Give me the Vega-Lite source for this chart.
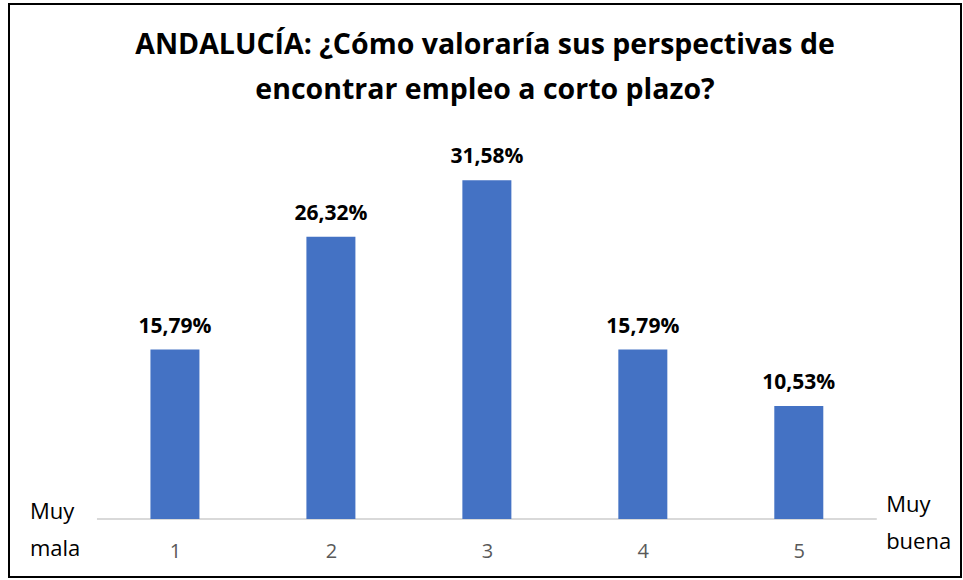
{
  "$schema": "https://vega.github.io/schema/vega-lite/v6.json",
  "autosize": "none",
  "width": 952,
  "height": 573,
  "padding": {"left": 9, "top": 4, "right": 2, "bottom": 3},
  "background": "white",
  "config": {
    "view": {"stroke": "black", "strokeWidth": 2},
    "font": "Open Sans"
  },
  "title": {
    "text": ["ANDALUCÍA: ¿Cómo valoraría sus perspectivas de", "encontrar empleo a corto plazo?"],
    "frame": "group",
    "anchor": "middle",
    "baseline": "bottom",
    "orient": "top",
    "offset": -129,
    "lineHeight": 45,
    "fontSize": 28.5,
    "fontWeight": "bold",
    "color": "black",
    "font": "Open Sans"
  },
  "datasets": {
    "bars": [
      {"cat": 1, "value": 15.79, "label": "15,79%"},
      {"cat": 2, "value": 26.32, "label": "26,32%"},
      {"cat": 3, "value": 31.58, "label": "31,58%"},
      {"cat": 4, "value": 15.79, "label": "15,79%"},
      {"cat": 5, "value": 10.53, "label": "10,53%"}
    ],
    "ends": [
      {"x": 0.07, "y": 0.65, "t": "Muy"},
      {"x": 0.07, "y": -2.8, "t": "mala"},
      {"x": 5.56, "y": 1.3, "t": "Muy"},
      {"x": 5.56, "y": -2.1, "t": "buena"}
    ],
    "base": [{"x": 0.5, "x2": 5.5, "y": 0}]
  },
  "layer": [
    {
      "data": {"name": "base"},
      "mark": {"type": "rule", "color": "#D9D9D9", "strokeWidth": 2},
      "encoding": {
        "x": {"field": "x", "type": "quantitative", "scale": {"domain": [-0.064, 6.04], "padding": 0, "nice": false, "zero": false}, "axis": {"values": [1, 2, 3, 4, 5], "domain": false, "ticks": false, "grid": false, "title": null, "labelFont": "Open Sans", "labelFontSize": 20, "labelColor": "#595959", "offset": -57, "labelPadding": 21, "format": "d"}},
        "x2": {"field": "x2"},
        "y": {"field": "y", "type": "quantitative", "scale": {"domain": [-5.4, 48.0], "padding": 0, "nice": false, "zero": false}, "axis": null}
      }
    },
    {
      "data": {"name": "bars"},
      "mark": {"type": "bar", "color": "#4472C4", "width": 49},
      "encoding": {
        "x": {"field": "cat", "type": "quantitative"},
        "y": {"field": "value", "type": "quantitative"},
        "y2": {"datum": 0}
      }
    },
    {
      "data": {"name": "bars"},
      "mark": {"type": "text", "fontWeight": "bold", "fontSize": 21, "color": "black", "dy": -23, "font": "Open Sans"},
      "encoding": {
        "x": {"field": "cat", "type": "quantitative"},
        "y": {"field": "value", "type": "quantitative"},
        "text": {"field": "label"}
      }
    },
    {
      "data": {"name": "ends"},
      "mark": {"type": "text", "align": "left", "fontSize": 22, "color": "black", "font": "Open Sans"},
      "encoding": {
        "x": {"field": "x", "type": "quantitative"},
        "y": {"field": "y", "type": "quantitative"},
        "text": {"field": "t"}
      }
    }
  ]
}
